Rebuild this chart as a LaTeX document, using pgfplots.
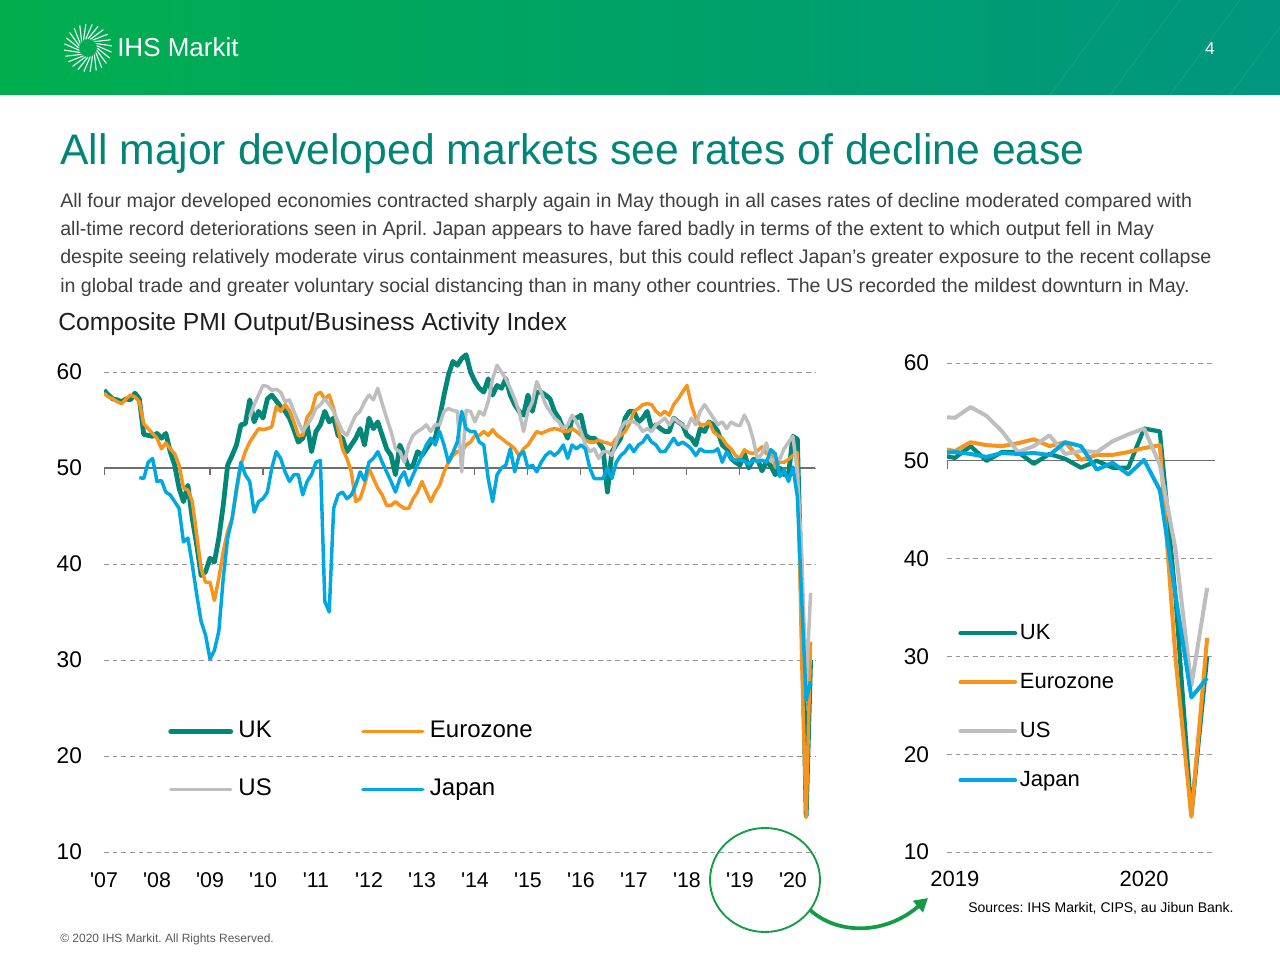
\documentclass[border=0pt]{standalone}
\usepackage{fontspec}
\setmainfont{Liberation Sans}
\usepackage{pgfplots}
\pgfplotsset{compat=1.18}
\usepackage{pgfplotstable}
\usetikzlibrary{arrows.meta}

\definecolor{ukteal}{RGB}{0,135,120}
\definecolor{ezorange}{RGB}{247,148,30}
\definecolor{usgray}{RGB}{190,190,190}
\definecolor{jpblue}{RGB}{0,168,225}
\definecolor{titleteal}{RGB}{0,133,118}
\definecolor{gridgray}{RGB}{150,150,150}
\definecolor{axgray}{RGB}{110,110,110}
\definecolor{hdrgreen}{RGB}{0,174,78}
\definecolor{hdrteal}{RGB}{0,150,128}
\definecolor{ringgreen}{RGB}{20,155,70}
\definecolor{bodytext}{RGB}{64,64,64}

\newcommand{\q}{\textquotesingle}
\frenchspacing

% composite PMI, months since Jan 2007
\pgfplotstableread{
m uk ez us jp
0 58.1 57.8 nan nan
1 57.6 57.4 nan nan
2 57.2 57.2 nan nan
3 57.1 56.9 nan nan
4 56.9 56.7 nan nan
5 57.2 57.2 nan nan
6 57.1 57.6 nan nan
7 57.8 57.4 nan nan
8 57.2 56.9 nan 49.0
9 53.5 54.6 nan 48.9
10 53.4 54.1 nan 50.6
11 53.3 53.6 nan 51.0
12 53.6 53.1 nan 48.6
13 53.1 52.0 nan 48.7
14 53.6 52.6 nan 47.5
15 51.7 52.0 nan 47.2
16 50.3 51.5 nan 46.5
17 47.9 50.3 nan 45.8
18 46.5 47.9 nan 42.3
19 48.2 47.7 nan 42.7
20 44.7 46.5 nan 39.9
21 42.0 43.0 nan 36.8
22 38.8 39.5 nan 34.0
23 39.2 38.1 nan 32.6
24 40.6 38.1 nan 30.1
25 40.2 36.2 nan 31.0
26 42.7 38.5 nan 33.0
27 46.1 41.3 nan 38.5
28 50.3 43.4 nan 42.7
29 51.3 44.7 nan 44.7
30 52.4 47.5 nan 47.9
31 54.5 50.3 nan 50.6
32 54.6 51.7 nan 49.3
33 57.1 52.7 55.3 48.6
34 54.8 53.4 56.6 45.4
35 55.9 54.1 57.6 46.5
36 55.2 54.0 58.6 46.8
37 57.2 54.1 58.5 47.5
38 57.6 54.3 58.1 50.0
39 57.0 56.4 58.2 51.7
40 56.4 55.9 57.9 51.0
41 55.9 56.6 56.9 49.6
42 55.2 56.0 57.1 48.6
43 54.0 54.8 55.9 49.3
44 52.7 53.4 54.8 49.3
45 53.1 53.4 53.8 47.2
46 54.5 55.3 54.5 48.6
47 51.7 55.9 55.2 49.3
48 53.8 57.6 56.2 50.6
49 54.5 57.9 56.6 50.8
50 55.9 57.2 57.2 36.1
51 54.8 57.6 56.6 35.0
52 55.2 56.2 55.9 45.8
53 53.4 54.1 54.8 47.2
54 53.1 52.0 53.8 47.5
55 51.7 51.0 53.4 46.8
56 52.4 49.6 54.5 47.2
57 53.1 46.5 55.5 48.2
58 54.1 46.8 55.9 49.6
59 52.4 48.2 56.9 48.7
60 55.2 50.0 57.6 50.6
61 54.1 48.9 57.1 51.0
62 54.8 47.9 58.3 51.7
63 53.4 47.2 56.7 50.6
64 52.0 46.1 55.2 49.6
65 51.3 46.1 53.8 48.6
66 49.3 46.5 52.0 47.5
67 52.4 46.1 51.7 48.9
68 51.3 45.8 50.6 49.6
69 50.0 45.8 52.4 48.2
70 50.3 46.8 53.4 49.3
71 51.7 47.5 53.8 50.3
72 51.3 48.6 54.1 51.3
73 52.0 47.5 54.5 52.4
74 52.7 46.5 53.8 53.1
75 53.1 47.5 54.5 52.4
76 55.2 48.2 54.5 53.8
77 57.6 49.6 55.9 52.4
78 59.7 50.6 56.2 50.6
79 61.1 51.3 56.0 51.6
80 60.7 51.7 55.9 52.7
81 61.4 51.7 49.6 55.9
82 61.8 52.4 56.0 54.1
83 60.0 52.7 55.9 53.8
84 59.0 53.4 54.8 53.8
85 58.3 53.4 55.9 52.7
86 57.9 53.8 55.5 52.4
87 59.3 53.4 56.9 48.9
88 57.6 54.0 59.3 46.5
89 58.6 53.4 60.7 49.3
90 58.3 53.1 60.0 50.0
91 59.3 52.7 59.3 50.3
92 57.6 52.4 58.3 52.0
93 56.6 52.0 57.2 49.6
94 55.9 51.3 55.9 51.3
95 55.5 52.0 53.8 51.7
96 57.6 52.4 55.9 50.0
97 55.9 53.1 56.9 50.3
98 57.9 53.8 59.0 49.6
99 57.9 53.6 57.9 50.6
100 57.6 53.8 56.6 51.3
101 57.2 54.0 55.9 51.7
102 55.9 54.1 55.2 51.3
103 55.2 54.0 54.8 51.7
104 54.1 53.8 54.1 52.4
105 53.1 53.8 54.5 51.0
106 55.2 54.1 55.5 52.4
107 55.2 53.8 54.8 52.0
108 55.5 53.4 53.8 52.4
109 53.4 52.9 52.4 52.0
110 53.1 52.7 51.7 50.0
111 53.1 52.7 52.0 48.9
112 52.7 52.9 51.0 48.9
113 52.0 52.7 51.7 48.9
114 47.5 52.6 51.7 50.0
115 51.7 52.4 51.3 48.9
116 52.4 53.1 52.7 50.6
117 53.1 53.4 54.1 51.3
118 55.2 53.8 54.8 51.7
119 55.9 54.6 54.8 52.4
120 55.9 55.9 54.8 51.7
121 54.8 56.2 54.5 52.4
122 55.2 56.6 53.8 52.7
123 55.9 56.7 54.1 53.4
124 54.1 56.6 53.8 52.7
125 54.5 55.9 54.5 52.4
126 54.1 55.5 54.8 51.7
127 53.8 55.9 55.2 51.7
128 53.8 55.5 54.5 52.4
129 55.2 56.6 55.2 53.1
130 54.8 57.2 54.8 52.4
131 54.5 57.9 54.5 52.7
132 53.4 58.6 54.1 52.4
133 53.1 56.6 55.2 52.0
134 52.4 55.2 54.5 51.3
135 54.1 54.5 55.9 52.0
136 53.8 54.5 56.6 51.7
137 54.8 54.8 55.9 51.7
138 54.5 53.8 55.2 51.7
139 53.8 53.4 54.5 52.0
140 52.4 53.1 54.8 50.6
141 52.0 52.4 54.1 51.7
142 51.0 52.0 54.8 51.0
143 50.6 51.3 54.5 50.8
144 50.3 51.0 54.4 50.9
145 51.5 51.9 55.5 50.7
146 50.0 51.6 54.6 50.4
147 50.9 51.5 53.0 50.8
148 50.9 51.8 50.9 50.7
149 49.7 52.2 51.5 50.8
150 50.7 51.5 52.6 50.6
151 50.2 51.9 50.7 51.9
152 49.3 50.1 51.0 51.5
153 50.0 50.6 50.9 49.1
154 49.3 50.6 52.0 49.8
155 49.3 50.9 52.7 48.6
156 53.3 51.3 53.3 50.1
157 53.0 51.6 49.6 47.0
158 36.0 29.7 40.9 36.2
159 13.8 13.6 27.0 25.8
160 30.0 31.9 37.0 27.8
}\pmi

\pgfplotsset{
  pmiaxis/.style={
    scale only axis,
    anchor=south west,
    ymin=10,
    axis line style={draw=none},
    major tick length=0pt,
    ytick={10,20,30,40,50,60},
    ymajorgrids,
    major grid style={gridgray, dash pattern=on 3.5pt off 3pt, line width=0.7pt},
    /pgf/number format/assume math mode=true,
    y tick label style={font=\fontsize{17}{18}\selectfont},
    legend style={draw=none, fill=none, inner sep=0pt, anchor=north west,
      nodes={inner xsep=4pt, inner ysep=0pt, text height=13pt, text depth=4pt}},
    legend cell align=left,
  },
  uk/.style={ukteal, line width=3.6pt, line join=round},
  ez/.style={ezorange, line width=2.6pt, line join=round},
  us/.style={usgray, line width=2.6pt, line join=round},
  jp/.style={jpblue, line width=2.6pt, line join=round},
}

\begin{document}
\begin{tikzpicture}
\useasboundingbox (0,0) rectangle (960pt,720pt);
\fill[white] (0,0) rectangle (960pt,720pt);

\begin{scope}[x=0.75pt, y=-0.75pt, yshift=720pt]
  % header band
  \shade[left color=hdrgreen, right color=hdrteal] (0,0) rectangle (1280,95);
  \foreach \x in {1050,1110,1170,1230}
    \draw[white, opacity=0.08, line width=0.6pt] (\x+70,0) -- (\x,95);
  \begin{scope}[shift={(88,48)}]
    \foreach \a in {0,15,...,345}
      \draw[white, line width=0.8pt] (\a:9) -- (\a+25:24);
  \end{scope}
  \node[anchor=base west, inner sep=0, text=white, font=\fontsize{19.5}{20}\selectfont] at (117,57) {IHS Markit};
  \node[anchor=base, inner sep=0, text=white, font=\fontsize{13}{14}\selectfont] at (1210,55) {4};

  % title and text
  \node[anchor=base west, inner sep=0, text=titleteal, font=\fontsize{32}{36}\selectfont] at (60,165)
    {All major developed markets see rates of decline ease};
  \begin{scope}[every node/.style={anchor=base west, inner sep=0, text=bodytext, font=\fontsize{14.7}{16}\selectfont}]
    \node at (60,208) {All four major developed economies contracted sharply again in May though in all cases rates of decline moderated compared with};
    \node at (60,236) {all-time record deteriorations seen in April. Japan appears to have fared badly in terms of the extent to which output fell in May};
    \node at (60,264) {despite seeing relatively moderate virus containment measures, but this could reflect Japan’s greater exposure to the recent collapse};
    \node at (60,293) {in global trade and greater voluntary social distancing than in many other countries. The US recorded the mildest downturn in May.};
  \end{scope}
  \node[anchor=base west, inner sep=0, text={rgb,255:red,30;green,30;blue,30}, font=\fontsize{18.5}{20}\selectfont] at (58,331)
    {Composite PMI Output/Business Activity Index};

  % footer
  \node[anchor=base west, inner sep=0, font=\fontsize{10.5}{12}\selectfont] at (968,912)
    {Sources: IHS Markit, CIPS, au Jibun Bank.};
  \node[anchor=base west, inner sep=0, text={rgb,255:red,90;green,90;blue,90}, font=\fontsize{9}{10}\selectfont] at (60,942)
    {\textcopyright\ 2020 IHS Markit. All Rights Reserved.};

  % highlight ring and arrow
  \draw[ringgreen, line width=1.4pt] (765,880) ellipse [x radius=55, y radius=52];
  \draw[ringgreen, line width=2.8pt, -{Triangle[length=10pt,width=11pt]}]
    (810,910) .. controls (838,935) and (885,935) .. (928,898);
\end{scope}

% full history
\begin{axis}[pmiaxis,
  at={(78pt,81pt)},
  width=533.25pt, height=381.6pt,
  xmin=0, xmax=161, ymax=63,
  xtick={0,12,...,156},
  xticklabels={\q07,\q08,\q09,\q10,\q11,\q12,\q13,\q14,\q15,\q16,\q17,\q18,\q19,\q20},
  x tick label style={font=\fontsize{16}{17}\selectfont, yshift=-12pt},
  y tick label style={xshift=-13pt},
  legend columns=2,
  legend style={at={(axis cs:14.5,23.75)}, font=\fontsize{18}{20}\selectfont,
    row sep=26.5pt, /tikz/every even column/.append style={column sep=63pt}},
  legend image code/.code={\draw[#1, line cap=round] (0pt,0pt) -- (45pt,0pt);},
]
\draw[axgray, line width=1pt] (axis cs:0,50) -- (axis cs:161,50);
\draw[axgray, line width=0.8pt]
  (axis cs:0,50) -- ++(0pt,-5pt) (axis cs:24,50) -- ++(0pt,-5pt)
  (axis cs:36,50) -- ++(0pt,-5pt) (axis cs:84,50) -- ++(0pt,-5pt)
  (axis cs:96,50) -- ++(0pt,-5pt) (axis cs:108,50) -- ++(0pt,-5pt)
  (axis cs:120,50) -- ++(0pt,-5pt) (axis cs:132,50) -- ++(0pt,-5pt)
  (axis cs:144,50) -- ++(0pt,-5pt);
\addplot[uk] table[x=m, y=uk] {\pmi};
\addplot[ez] table[x=m, y=ez] {\pmi};
\addplot[us] table[x=m, y=us] {\pmi};
\addplot[jp] table[x=m, y=jp] {\pmi};
\legend{UK, Eurozone, US, Japan}
\end{axis}

% 2019 onwards
\begin{axis}[pmiaxis,
  at={(710.25pt,81pt)},
  width=201pt, height=381.4pt,
  xmin=143.5, xmax=160.5, ymax=62,
  restrict x to domain=143:161,
  xtick={144,156},
  xticklabels={2019,2020},
  x tick label style={font=\fontsize{16.5}{17}\selectfont, yshift=-11pt},
  y tick label style={xshift=-10pt},
  legend columns=1,
  legend style={at={(axis cs:144.2,33.55)}, font=\fontsize{16.5}{18}\selectfont, row sep=19.75pt,
    nodes={inner xsep=2pt}},
  legend image code/.code={\draw[#1, line cap=round] (0pt,0pt) -- (41pt,0pt);},
  uk/.append style={line width=3.2pt},
  ez/.append style={line width=3pt},
  us/.append style={line width=3pt},
  jp/.append style={line width=3pt},
]
\draw[axgray, line width=1pt] (axis cs:143.5,50) -- (axis cs:160.5,50);
\draw[axgray, line width=0.8pt] (axis cs:143.5,50) -- ++(0pt,-6pt);
\addplot[uk] table[x=m, y=uk] {\pmi};
\addplot[ez] table[x=m, y=ez] {\pmi};
\addplot[us] table[x=m, y=us] {\pmi};
\addplot[jp] table[x=m, y=jp] {\pmi};
\legend{UK, Eurozone, US, Japan}
\end{axis}
\end{tikzpicture}
\end{document}
